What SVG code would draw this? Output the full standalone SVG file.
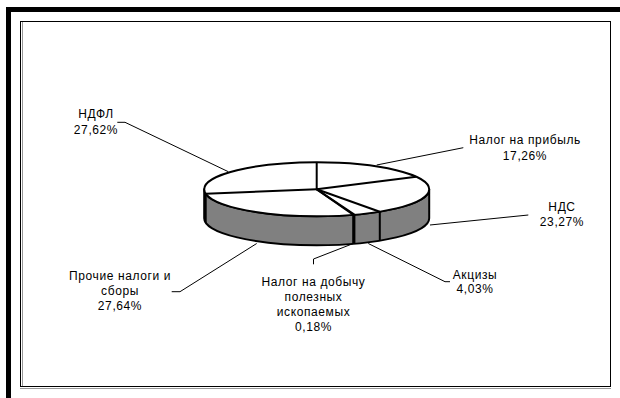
<svg xmlns="http://www.w3.org/2000/svg" width="620" height="398" viewBox="0 0 620 398">
<style>
.lbl{font-family:"Liberation Sans",Arial,sans-serif;font-size:12px;letter-spacing:0.6px;fill:#000;text-anchor:middle}
.lead{fill:none;stroke:#000;stroke-width:1}
.edge{stroke:#000;stroke-width:2;stroke-linejoin:round}
</style>
<rect x="0" y="0" width="620" height="398" fill="#fff"/>
<g id="frame">
<path d="M8.5,398 V9.5 H620" fill="none" stroke="#000" stroke-width="5"/>
<rect x="20.5" y="21.5" width="590" height="365" fill="#fff" stroke="#000" stroke-width="1"/>
<line x1="22.5" y1="22" x2="22.5" y2="386" stroke="#999" stroke-width="1"/>
<line x1="20" y1="388.5" x2="611" y2="388.5" stroke="#999" stroke-width="1"/>
</g>
<g id="pie">
<path class="edge" fill="#808080" d="M204.2,189.3 A112.5,27 0 0 0 429.2,189.3 L429.2,218.3 A112.5,27 0 0 1 204.2,218.3 Z"/>
<g class="edge" fill="none">
<line x1="379.8" y1="211.7" x2="379.8" y2="240.7"/>
<line x1="354.4" y1="214.7" x2="354.4" y2="243.7"/>
<line x1="353.2" y1="214.8" x2="353.2" y2="243.8"/>
<line x1="205.7" y1="193.7" x2="205.7" y2="222.7"/>
</g>
<ellipse class="edge" cx="316.7" cy="189.3" rx="112.5" ry="27" fill="#fff"/>
<g class="edge" fill="none">
<line x1="316.7" y1="189.3" x2="316.7" y2="162.3"/>
<line x1="316.7" y1="189.3" x2="416.2" y2="176.7"/>
<line x1="316.7" y1="189.3" x2="379.8" y2="211.7"/>
<line x1="316.7" y1="189.3" x2="354.4" y2="214.7"/>
<line x1="316.7" y1="189.3" x2="353.2" y2="214.8"/>
<line x1="316.7" y1="189.3" x2="205.7" y2="193.7"/>
</g>
</g>
<g id="connectors">
<polyline class="lead" points="376.7,165 463.3,147.7"/>
<polyline class="lead" points="430,225 528.3,215"/>
<polyline class="lead" points="368.3,243.5 445,281.7 450,281.7"/>
<polyline class="lead" points="353.3,243.5 313.5,259 313.5,264.3"/>
<polyline class="lead" points="256.7,243.5 180,291.7 171.7,291.7"/>
<polyline class="lead" points="228.3,171.7 125,122.3 117.3,122.3"/>
</g>
<g id="label-pribyl"><text class="lbl" x="525" y="144">Налог на прибыль</text><text class="lbl" x="525" y="160">17,26%</text></g>
<g id="label-nds"><text class="lbl" x="562" y="211">НДС</text><text class="lbl" x="562" y="226">23,27%</text></g>
<g id="label-akcizy"><text class="lbl" x="475" y="279">Акцизы</text><text class="lbl" x="475" y="293">4,03%</text></g>
<g id="label-ndpi"><text class="lbl" x="313.5" y="286">Налог на добычу</text><text class="lbl" x="313.5" y="301">полезных</text><text class="lbl" x="313.5" y="316">ископаемых</text><text class="lbl" x="313.5" y="331">0,18%</text></g>
<g id="label-prochie"><text class="lbl" x="120" y="280">Прочие налоги и</text><text class="lbl" x="120" y="295">сборы</text><text class="lbl" x="120" y="310">27,64%</text></g>
<g id="label-ndfl"><text class="lbl" x="96" y="118">НДФЛ</text><text class="lbl" x="96" y="134">27,62%</text></g>
</svg>
